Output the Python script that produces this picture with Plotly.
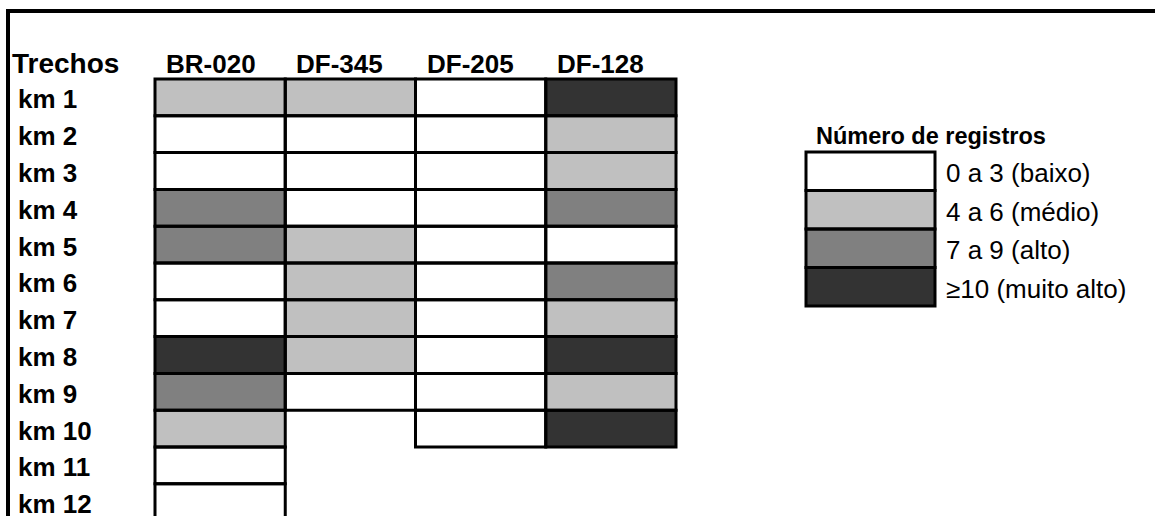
import plotly.graph_objects as go

# ---- data ----
roads = ["BR-020", "DF-345", "DF-205", "DF-128"]
segments = ["km 1", "km 2", "km 3", "km 4", "km 5", "km 6",
            "km 7", "km 8", "km 9", "km 10", "km 11", "km 12"]
# class of records per segment: 0 = 0 a 3, 1 = 4 a 6, 2 = 7 a 9, 3 = >=10 ; None = no segment
br020 = [1, 0, 0, 2, 2, 0, 0, 3, 2, 1, 0, 0]
df345 = [1, 0, 0, 0, 1, 1, 1, 1, 0, None, None, None]
df205 = [0, 0, 0, 0, 0, 0, 0, 0, 0, 0, None, None]
df128 = [3, 1, 1, 2, 0, 2, 1, 3, 1, 3, None, None]
legend_title = "Número de registros"
legend_labels = ["0 a 3 (baixo)", "4 a 6 (médio)", "7 a 9 (alto)", "≥10 (muito alto)"]
class_colors = ["#FFFFFF", "#C0C0C0", "#808080", "#333333"]
header_label = "Trechos"

columns = [br020, df345, df205, df128]

W, H = 1155, 516
FONT = "Liberation Sans, Arial, sans-serif"

# discrete colorscale
cs = []
n = len(class_colors)
for i, c in enumerate(class_colors):
    cs.append([i / n, c])
    cs.append([(i + 1) / n, c])

z = [[columns[c][r] for c in range(len(roads))] for r in range(len(segments))]

fig = go.Figure()
fig.add_trace(go.Heatmap(
    z=z, x=list(range(len(roads))), y=list(range(len(segments))),
    colorscale=cs, zmin=-0.5, zmax=n - 0.5, showscale=False,
    hoverinfo="skip", xaxis="x", yaxis="y"))

# legend swatches as a one-column heatmap on its own axes
fig.add_trace(go.Heatmap(
    z=[[i] for i in range(n)], x=[0], y=list(range(n)),
    colorscale=cs, zmin=-0.5, zmax=n - 0.5, showscale=False,
    hoverinfo="skip", xaxis="x2", yaxis="y2"))

shapes = []
# cell borders
for c, col in enumerate(columns):
    for r, v in enumerate(col):
        if v is None:
            continue
        shapes.append(dict(type="rect", xref="x", yref="y",
                           x0=c - 0.5, x1=c + 0.5, y0=r - 0.5, y1=r + 0.5,
                           line=dict(color="black", width=3), fillcolor="rgba(0,0,0,0)",
                           layer="above"))
for i in range(n):
    shapes.append(dict(type="rect", xref="x2", yref="y2",
                       x0=-0.5, x1=0.5, y0=i - 0.5, y1=i + 0.5,
                       line=dict(color="black", width=3), fillcolor="rgba(0,0,0,0)",
                       layer="above"))
# outer frame (top and left)
shapes.append(dict(type="path", xref="paper", yref="paper",
                   path=f"M {8/W},-0.1 L {8/W},{1-11/H} L 1.1,{1-11/H}",
                   line=dict(color="black", width=4)))

annotations = []
colw = (676 - 155) / 4
rowh = 36.8
grid_left, grid_top = 155, 79
header_py = grid_top - rowh / 2 + 3  # pixel centre of header row text


def py(p):
    return 1 - p / H


# headers
annotations.append(dict(text=f"<b>{header_label}</b>", xref="paper", yref="paper",
                        x=10 / W, y=py(header_py), xanchor="left", yanchor="middle",
                        showarrow=False, font=dict(family=FONT, size=28, color="black")))
for c, name in enumerate(roads):
    annotations.append(dict(text=f"<b>{name}</b>", xref="paper", yref="paper",
                            x=(grid_left + c * colw + 9) / W, y=py(header_py),
                            xanchor="left", yanchor="middle", showarrow=False,
                            font=dict(family=FONT, size=26, color="black")))
for r, name in enumerate(segments):
    annotations.append(dict(text=f"<b>{name}</b>", xref="paper", yref="y",
                            x=16 / W, y=r, xanchor="left", yanchor="middle", yshift=-2,
                            showarrow=False, font=dict(family=FONT, size=26, color="black")))
# legend
leg_top, leg_rowh = 152, 38.5
annotations.append(dict(text=f"<b>{legend_title}</b>", xref="paper", yref="paper",
                        x=814 / W, y=py(leg_top - leg_rowh / 2 + 3), xanchor="left",
                        yanchor="middle", showarrow=False,
                        font=dict(family=FONT, size=23.5, color="black")))
for i, lab in enumerate(legend_labels):
    annotations.append(dict(text=lab, xref="paper", yref="y2",
                            x=944 / W, y=i, xanchor="left", yanchor="middle", yshift=-2,
                            showarrow=False, font=dict(family=FONT, size=26, color="black")))

hidden = dict(visible=False, showgrid=False, zeroline=False, fixedrange=True)
fig.update_layout(
    width=W, height=H,
    margin=dict(l=0, r=0, t=0, b=0),
    paper_bgcolor="white", plot_bgcolor="rgba(0,0,0,0)",
    xaxis=dict(domain=[145 / W, 690 / W], range=[-0.5 - 10 / colw, 3.5 + 14 / colw], **hidden),
    yaxis=dict(domain=[0, 1 - 70 / H], range=[-0.5 + (516 - 79) / rowh, -0.5 - 9 / rowh], **hidden),
    xaxis2=dict(domain=[800 / W, 941 / W], range=[-0.5 - 6 / 129, 0.5 + 6 / 129], anchor="y2", **hidden),
    yaxis2=dict(domain=[1 - 312 / H, 1 - 146 / H], range=[3.5 + 6 / 38.5, -0.5 - 6 / 38.5], anchor="x2", **hidden),
    shapes=shapes, annotations=annotations, showlegend=False,
)

fig.write_html("out.html", config={"displayModeBar": False, "staticPlot": True},
               post_script="document.body.style.margin='0px';")
